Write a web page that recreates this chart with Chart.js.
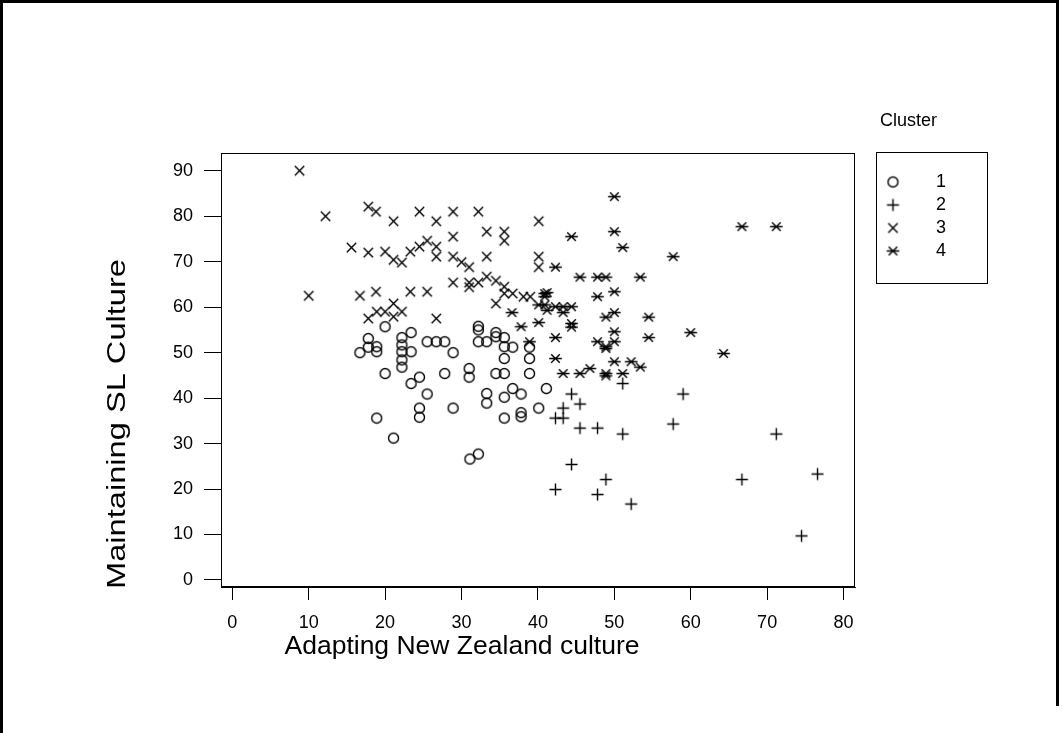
<!DOCTYPE html>
<html><head><meta charset="utf-8">
<script src="https://cdn.jsdelivr.net/npm/chart.js@4/dist/chart.umd.min.js"></script>
<style>html,body{margin:0;padding:0;background:#fff;}canvas{display:block;}</style>
</head><body>
<canvas id="c" width="1062" height="733"></canvas>
<script>
const clusterLabels = ['1', '2', '3', '4'];
const xTickValues = [0, 10, 20, 30, 40, 50, 60, 70, 80];
const yTickValues = [0, 10, 20, 30, 40, 50, 60, 70, 80, 90];
const xTitle = 'Adapting New Zealand culture';
const yTitle = 'Maintaining SL Culture';
const legendTitle = 'Cluster';

const cluster1 = [
  [16.7,50.0],[17.8,53.1],[17.8,51.2],[18.9,51.3],[18.9,50.2],[18.9,35.6],[20.0,55.7],[20.0,45.4],
  [21.1,31.2],[22.2,53.3],[22.2,51.7],[22.2,50.2],[22.2,48.4],[22.2,46.8],[23.4,54.4],[23.4,50.2],
  [23.4,43.2],[24.5,44.6],[24.5,37.8],[24.5,35.8],[25.5,52.4],[25.5,40.9],[26.7,52.4],[27.8,52.4],
  [27.8,45.4],[28.9,50.0],[28.9,37.8],[31.0,46.5],[31.0,44.6],[31.1,26.6],[32.2,27.7],[32.2,55.8],
  [32.2,55.0],[32.2,52.4],[33.3,52.4],[33.3,41.0],[33.3,38.9],[34.5,54.4],[34.5,53.5],[34.5,45.4],
  [35.6,53.3],[35.6,51.3],[35.6,48.7],[35.6,45.4],[35.6,40.2],[35.6,35.6],[36.7,51.2],[36.7,42.1],
  [37.8,40.9],[37.8,36.8],[37.8,35.9],[38.9,51.2],[38.9,48.7],[38.9,45.4],[40.1,37.8],[41.1,42.1]
];
const cluster2 = [
  [42.3,35.6],[43.3,35.6],[43.3,37.8],[44.4,40.9],[45.5,38.7],[45.5,33.4],[47.8,33.4],[51.1,32.1],
  [51.1,43.2],[57.7,34.3],[59.0,40.9],[44.4,25.4],[48.9,22.1],[42.3,19.9],[47.8,18.8],[52.2,16.7],
  [71.2,32.1],[66.7,22.1],[76.6,23.3],[74.5,9.7]
];
const cluster3 = [
  [8.8,90.0],[12.2,80.0],[17.8,82.1],[18.8,81.0],[15.6,73.1],[17.8,72.0],[10.0,62.5],[16.7,62.5],
  [18.8,63.4],[21.1,78.9],[24.5,81.0],[26.7,78.9],[28.9,81.0],[32.2,81.0],[33.3,76.6],[35.6,76.6],
  [35.6,74.6],[40.1,78.9],[28.9,75.5],[20.0,72.2],[21.1,70.4],[22.2,69.8],[23.3,72.2],[24.5,73.3],
  [25.5,74.6],[26.7,73.3],[26.7,71.1],[28.9,71.1],[30.0,69.9],[31.0,68.8],[33.3,71.1],[33.3,66.7],
  [34.5,65.8],[35.6,64.5],[35.6,63.0],[36.7,63.0],[38.1,62.3],[39.0,62.3],[40.1,71.1],[40.1,68.8],
  [28.9,65.4],[31.0,65.4],[32.2,65.4],[31.0,64.4],[23.3,63.4],[25.5,63.4],[21.1,60.8],[18.9,59.0],
  [20.0,59.0],[22.2,59.0],[21.1,57.9],[17.8,57.5],[26.7,57.5],[34.5,60.8]
];
const cluster4 = [
  [40.9,63.0],[40.9,62.3],[40.1,60.5],[40.9,60.5],[36.6,58.8],[40.1,56.6],[37.8,55.7],[38.9,52.4],
  [50.0,84.3],[44.4,75.5],[50.0,76.6],[51.1,73.1],[57.7,71.1],[42.3,68.8],[45.5,66.6],[47.8,66.6],
  [48.9,66.6],[53.4,66.6],[41.2,63.2],[47.8,62.3],[50.0,63.4],[42.3,60.1],[43.3,60.1],[44.4,60.1],
  [41.2,59.3],[43.3,58.8],[50.0,58.8],[48.9,57.8],[54.5,57.8],[44.4,56.4],[44.4,55.6],[60.0,54.4],
  [50.0,54.6],[42.3,53.3],[54.5,53.3],[47.8,52.4],[48.9,50.9],[48.9,51.3],[50.0,52.4],[42.3,48.7],
  [50.0,48.0],[52.2,48.0],[53.4,46.8],[43.3,45.4],[45.5,45.4],[46.8,46.5],[48.9,44.9],[48.9,45.4],
  [51.1,45.4],[64.3,49.8],[66.7,77.7],[71.2,77.7]
];
const clusters = [cluster1, cluster2, cluster3, cluster4];

function makeMarker(kind) {
  const s = 17, m = 8.5;
  const c = document.createElement('canvas');
  c.width = s; c.height = s;
  const g = c.getContext('2d');
  g.strokeStyle = '#000'; g.lineWidth = 1.4; g.beginPath();
  if (kind === 'circle') {
    g.arc(m, m, 5.0, 0, Math.PI * 2);
  } else if (kind === 'plus') {
    g.moveTo(m - 6, m); g.lineTo(m + 6, m);
    g.moveTo(m, m - 6); g.lineTo(m, m + 6);
  } else if (kind === 'x') {
    const d = 4.7;
    g.moveTo(m - d, m - d); g.lineTo(m + d, m + d);
    g.moveTo(m - d, m + d); g.lineTo(m + d, m - d);
  } else {
    const d = 4.3;
    g.moveTo(m - d, m - d); g.lineTo(m + d, m + d);
    g.moveTo(m - d, m + d); g.lineTo(m + d, m - d);
    g.moveTo(m - 6.3, m); g.lineTo(m + 6.3, m);
  }
  g.stroke();
  return c;
}
const markers = [makeMarker('circle'), makeMarker('plus'), makeMarker('x'), makeMarker('star')];

const FONT = '"Liberation Sans", Arial, sans-serif';

const decor = {
  id: 'decor',
  afterDraw(chart) {
    const ctx = chart.ctx;
    const a = chart.chartArea;
    ctx.save();
    ctx.strokeStyle = '#000'; ctx.lineWidth = 1;
    ctx.strokeRect(Math.round(a.left) + 0.5, Math.round(a.top) + 0.5,
                   Math.round(a.right - a.left) - 1, Math.round(a.bottom - a.top) - 1);
    ctx.lineWidth = 3;
    ctx.beginPath();
    ctx.moveTo(0, 1.5); ctx.lineTo(1059, 1.5);
    ctx.moveTo(1.5, 0); ctx.lineTo(1.5, 733);
    ctx.moveTo(1057.5, 0); ctx.lineTo(1057.5, 706);
    ctx.stroke();
    ctx.fillStyle = '#000';
    ctx.textAlign = 'center'; ctx.textBaseline = 'middle';
    ctx.font = '26.5px ' + FONT;
    ctx.fillText(xTitle, 462, 647);
    ctx.save();
    ctx.font = '26px ' + FONT;
    const w = ctx.measureText(yTitle).width;
    ctx.translate(118, 424);
    ctx.rotate(-Math.PI / 2);
    ctx.scale(330 / w, 1);
    ctx.fillText(yTitle, 0, 0);
    ctx.restore();
    ctx.font = '18px ' + FONT;
    ctx.textAlign = 'left';
    ctx.fillText(legendTitle, 880, 121);
    ctx.lineWidth = 1;
    ctx.strokeRect(876.5, 152.5, 111, 131);
    ctx.textAlign = 'center';
    clusterLabels.forEach((lab, i) => {
      const y = 182 + i * 23;
      const mk = markers[i];
      ctx.drawImage(mk, 893 - mk.width / 2, y - mk.height / 2);
      ctx.fillText(lab, 941, y);
    });
    ctx.restore();
  }
};

new Chart(document.getElementById('c'), {
  type: 'scatter',
  data: {
    datasets: clusters.map((pts, i) => ({
      label: clusterLabels[i],
      data: pts.map(p => ({ x: p[0], y: p[1] })),
      pointStyle: markers[i],
      pointRadius: 5,
      borderColor: '#000',
      backgroundColor: 'transparent'
    }))
  },
  options: {
    responsive: false,
    animation: false,
    layout: { padding: { left: 0, top: 153, right: 207, bottom: 0 } },
    plugins: { legend: { display: false }, tooltip: { enabled: false } },
    scales: {
      x: {
        type: 'linear', min: -1.48, max: 81.5,
        afterBuildTicks: s => { s.ticks = xTickValues.map(v => ({ value: v })); },
        afterFit: s => { s.height = 146; },
        grid: { display: true, drawOnChartArea: false, drawTicks: true, tickLength: 13, color: '#000', lineWidth: 1 },
        border: { display: true, color: '#000', width: 1 },
        ticks: { color: '#000', font: { family: FONT, size: 18 }, padding: 12, maxRotation: 0, autoSkip: false }
      },
      y: {
        type: 'linear', min: -1.54, max: 93.9,
        afterBuildTicks: s => { s.ticks = yTickValues.map(v => ({ value: v })); },
        afterFit: s => { s.width = 221; },
        grid: { display: true, drawOnChartArea: false, drawTicks: true, tickLength: 17, color: '#000', lineWidth: 1 },
        border: { display: true, color: '#000', width: 1 },
        ticks: { color: '#000', font: { family: FONT, size: 18 }, padding: 11, autoSkip: false }
      }
    }
  },
  plugins: [decor]
});
</script>
</body></html>
